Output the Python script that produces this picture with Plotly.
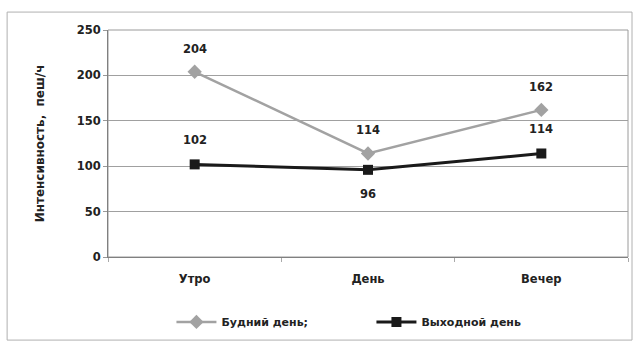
import plotly.graph_objects as go

categories = ["Утро", "День", "Вечер"]
weekday = [204, 114, 162]
weekend = [102, 96, 114]
weekend_label_side = [1, -1, 1]  # 1 = above the point, -1 = below
weekday_name = "Будний день;"
weekend_name = "Выходной день"
y_title = "Интенсивность,  пеш/ч"
y_ticks = [0, 50, 100, 150, 200, 250]

FAM = "DejaVu Sans"
txt = dict(family=FAM, size=11.5, color="#222", weight="bold")

fig = go.Figure()
fig.add_trace(go.Scatter(
    x=categories, y=weekday, name=weekday_name, mode="lines+markers",
    line=dict(color="#a2a2a2", width=2.5),
    marker=dict(symbol="diamond", size=11, color="#a2a2a2"),
))
fig.add_trace(go.Scatter(
    x=categories, y=weekend, name=weekend_name, mode="lines+markers",
    line=dict(color="#1a1a1a", width=3),
    marker=dict(symbol="square", size=10, color="#1a1a1a"),
))

annotations = []
for c, v in zip(categories, weekday):
    annotations.append(dict(x=c, y=v, text=str(v), showarrow=False, yshift=23, font=txt))
for c, v, s in zip(categories, weekend, weekend_label_side):
    annotations.append(dict(x=c, y=v, text=str(v), showarrow=False, yshift=24 * s, font=txt))

fig.update_layout(
    width=637, height=345,
    margin=dict(l=108, r=9, t=30, b=88),
    paper_bgcolor="white", plot_bgcolor="white",
    font=txt,
    showlegend=True,
    legend=dict(orientation="h", x=0.122, xanchor="left", y=-0.286, yanchor="middle",
                font=dict(family=FAM, size=11, color="#222", weight="bold"),
                itemwidth=40, entrywidth=145, traceorder="normal"),
    annotations=annotations,
    shapes=[
        dict(type="rect", xref="paper", yref="paper",
             x0=-0.194, x1=1.0077, y0=-0.366, y1=1.079,
             line=dict(color="#b0b0b0", width=1), layer="above"),
        dict(type="rect", xref="paper", yref="paper",
             x0=0, x1=1, y0=0, y1=1,
             line=dict(color="#9a9a9a", width=1), layer="below"),
    ],
)
fig.update_xaxes(
    type="category", range=[-0.5, 2.5],
    showline=True, linecolor="#808080", linewidth=1,
    ticks="outside", tickson="boundaries", ticklen=4, tickcolor="#aaa",
    ticklabelstandoff=11,
    showgrid=False, tickfont=txt,
)
fig.update_yaxes(
    range=[0, 250], tickvals=y_ticks,
    showline=True, linecolor="#808080", linewidth=1,
    gridcolor="#a0a0a0", gridwidth=1,
    ticks="outside", ticklen=4, tickcolor="#999",
    tickfont=txt,
    title=dict(text=y_title, font=dict(family=FAM, size=12, color="#222", weight="bold"), standoff=29),
    zeroline=False,
)

fig.write_html("out.html", config={"displayModeBar": False},
               post_script="document.body.style.margin='0';")
